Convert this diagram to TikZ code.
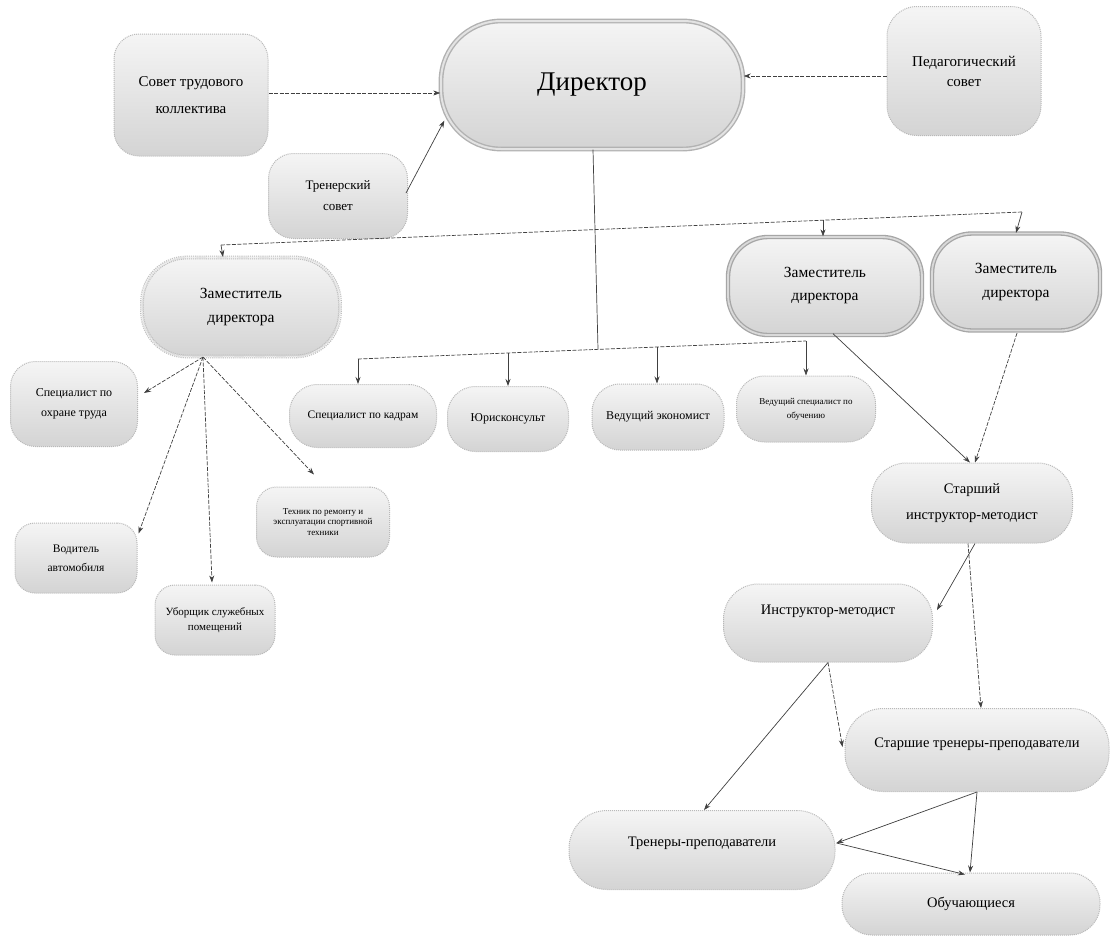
\documentclass[tikz,border=0pt]{standalone}
\usepackage{fontspec}
\setmainfont{Liberation Serif}
\usetikzlibrary{arrows.meta,calc}
\newcommand\fsz[2]{\fontsize{#1pt}{#2pt}\selectfont}
\begin{document}
\begin{tikzpicture}[x=1pt,y=-1pt,
  box/.style={draw=gray!55, densely dotted, line width=1pt, top color=gray!8, bottom color=gray!34, align=center, inner sep=2pt, text=black},
  dirbox/.style={box, solid, draw=gray!60, line width=1.4pt, double=gray!22, double distance=2pt},
  zambox/.style={box, solid, draw=gray!70, line width=1.3pt, double=gray!30, double distance=1.8pt},
  zlbox/.style={box, draw=gray!50, line width=1.1pt, double=gray!15, double distance=1.6pt},
  ln/.style={draw=black!75, line width=0.7pt},
  dl/.style={ln, dash pattern=on 4pt off 1.5pt},
  arr/.style={ln, -{Stealth[length=7pt,width=5pt]}},
  darr/.style={dl, -{Stealth[length=7pt,width=5pt]}}
]
\useasboundingbox (0,0) rectangle (1112,940);
\fill[white] (0,0) rectangle (1112,940);

% top level
\node[box, minimum width=154pt, minimum height=122pt, rounded corners=25pt, font=\fsz{15}{27}] (sov) at (191,95) {Совет трудового\\коллектива};
\node[dirbox, minimum width=302pt, minimum height=128pt, rounded corners=60pt, font=\fsz{27}{30}] (dir) at (592,85) {Директор};
\node[box, minimum width=154pt, minimum height=129pt, rounded corners=30pt, font=\fsz{15}{20}] (ped) at (964,71) {Педагогический\\совет};
\node[box, minimum width=139pt, minimum height=85pt, rounded corners=25pt, font=\fsz{13}{21}] (trs) at (338,196) {Тренерский\\совет};

% deputies
\node[zlbox, minimum width=198pt, minimum height=99pt, rounded corners=45pt, font=\fsz{15.5}{24}] (zl) at (241,307) {Заместитель\\директора};
\node[zambox, minimum width=194pt, minimum height=98pt, rounded corners=40pt, font=\fsz{15.5}{23}] (zm) at (825,286) {Заместитель\\директора};
\node[zambox, minimum width=168pt, minimum height=97pt, rounded corners=40pt, font=\fsz{15.5}{24}] (zr) at (1016,282) {Заместитель\\директора};

% left group
\node[box, minimum width=127pt, minimum height=85pt, rounded corners=25pt, font=\fsz{12}{20}] (soh) at (74,404) {Специалист по\\охране труда};
\node[box, minimum width=122pt, minimum height=70pt, rounded corners=20pt, font=\fsz{11.5}{19}] (vod) at (76,558) {Водитель\\автомобиля};
\node[box, minimum width=120pt, minimum height=70pt, rounded corners=20pt, font=\fsz{11}{15}] (ubo) at (215,620) {Уборщик служебных\\помещений};
\node[box, minimum width=133pt, minimum height=70pt, rounded corners=20pt, font=\fsz{9}{10.5}] (teh) at (323,522) {Техник по ремонту и\\эксплуатации спортивной\\техники};

% middle row
\node[box, minimum width=147pt, minimum height=63pt, rounded corners=28pt, font=\fsz{11.5}{14}] (kad) at (363,416) {Специалист по кадрам};
\node[box, minimum width=121pt, minimum height=65pt, rounded corners=28pt, font=\fsz{12}{14}] (yur) at (508,419) {Юрисконсульт};
\node[box, minimum width=132pt, minimum height=66pt, rounded corners=28pt, font=\fsz{12}{14}] (eko) at (658,417) {Ведущий экономист};
\node[box, minimum width=139pt, minimum height=66pt, rounded corners=28pt, font=\fsz{9}{14}] (vsp) at (806,409) {Ведущий специалист по\\обучению};

% right chain
\node[box, minimum width=201pt, minimum height=80pt, rounded corners=35pt, font=\fsz{14.5}{26}] (sim) at (972,503) {Старший\\инструктор-методист};
\node[box, minimum width=209pt, minimum height=78pt, rounded corners=35pt, font=\fsz{14.5}{16}, text depth=26pt] (im) at (828,623) {Инструктор-методист};
\node[box, minimum width=264pt, minimum height=83pt, rounded corners=38pt, font=\fsz{14.5}{16}, text depth=14pt] (stp) at (977,750) {Старшие тренеры-преподаватели};
\node[box, minimum width=266pt, minimum height=79pt, rounded corners=38pt, font=\fsz{14.5}{16}, text depth=16pt] (tp) at (702,850) {Тренеры-преподаватели};
\node[box, minimum width=258pt, minimum height=62pt, rounded corners=30pt, font=\fsz{14.5}{16}] (obu) at (971,904) {Обучающиеся};

% connectors to the director
\draw[darr] (sov.east |- 0,93) -- (dir.west |- 0,93);
\draw[darr] (ped.west |- 0,76) -- (dir.east |- 0,76);
\draw[arr] ($(trs.east)+(-2,-3)$) -- ($(dir.south west)+(4,-29)$);

% junctions
\coordinate (c1) at (221,245);
\coordinate (c2) at (1022,212);
\coordinate (c3) at (823,220);
\coordinate (k1) at (358,359);
\coordinate (k2) at (806,341);
\coordinate (k3) at (508,353);
\coordinate (k4) at (657,347);
\coordinate (j2) at (598,349);

\draw[ln] ($(dir.south)+(1,0)$) -- (j2);
\draw[dl] (c1) -- (c2);
\draw[arr] (c1) -- ($(zl.north)+(-18,0)$);
\draw[arr] (c3) -- (c3 |- zm.north);
\draw[arr] (c2) -- (zr.north);
\draw[dl] (k1) -- (k2);
\draw[arr] (k1) -- (k1 |- kad.north);
\draw[arr] (k3) -- (k3 |- yur.north);
\draw[arr] (k4) -- (k4 |- eko.north);
\draw[arr] (k2) -- (k2 |- vsp.north);

% left deputy
\coordinate (zs) at ($(zl.south)+(-38,0)$);
\draw[darr] (zs) -- ($(soh.east)+(6,-11)$);
\draw[darr] (zs) -- ($(vod.north east)+(1,11)$);
\draw[darr] (zs) -- ($(ubo.north)+(-3,-2)$);
\draw[darr] (zs) -- ($(teh.north)+(-9,-12)$);

% right chain
\draw[arr] ($(zm.south)+(8,-2)$) -- ($(sim.north)+(-2,0)$);
\draw[darr] ($(zr.south)+(1,2)$) -- ($(sim.north)+(3,0)$);
\draw[arr] ($(sim.south)+(3,0)$) -- ($(im.east)+(4,-13)$);
\draw[darr] ($(sim.south)+(-4,0)$) -- ($(stp.north)+(4,0)$);
\draw[arr] (im.south) -- ($(tp.north)+(2,0)$);
\draw[darr] (im.south) -- ($(stp.west)+(-2,-3)$);
\draw[arr] (stp.south) -- ($(tp.east)+(1,-7)$);
\draw[arr] (stp.south) -- ($(obu.north)+(-1,0)$);
\draw[arr] ($(tp.east)+(1,-7)$) -- ($(obu.north)+(-6,2)$);
\end{tikzpicture}
\end{document}
